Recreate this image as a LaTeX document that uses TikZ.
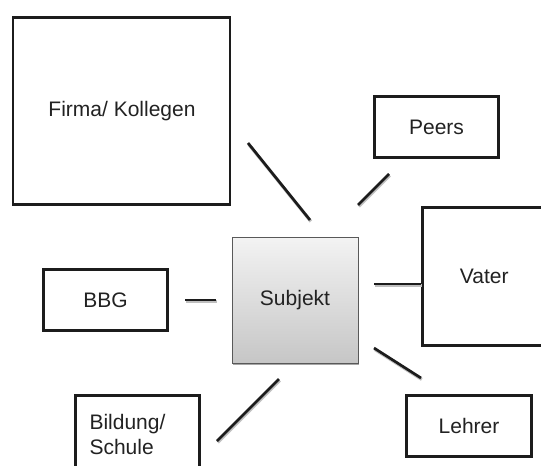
\documentclass[tikz,border=0pt]{standalone}
\usepackage{fontspec}
\setmainfont{Liberation Sans}
\usetikzlibrary{shadows}
\definecolor{ink}{HTML}{1C1C1C}
\definecolor{txt}{HTML}{222222}
\definecolor{gtop}{HTML}{F3F3F3}
\definecolor{gbot}{HTML}{C6C6C6}
\tikzset{
  boxnode/.style={draw=ink, line width=2.6pt, fill=white, rectangle, inner sep=0pt, text=txt,
    font=\fontsize{21}{25}\selectfont},
  subjnode/.style={draw=black!65, line width=0.8pt, rectangle, inner sep=0pt, text=txt,
    top color=gtop, bottom color=gbot, minimum width=126pt, minimum height=126pt,
    font=\fontsize{21}{25}\selectfont,
    drop shadow={shadow xshift=1.2pt, shadow yshift=-1.5pt, opacity=0.35, fill=black}},
  lbl/.style={text=txt, inner sep=0pt, font=\fontsize{21}{25}\selectfont},
  link/.style={draw=ink, line width=2.7pt},
  linkshadow/.style={draw=black!25, line width=3.2pt, transform canvas={shift={(0.8pt,-1.4pt)}}}
}
\begin{document}
\begin{tikzpicture}[x=1pt,y=-1pt]
\useasboundingbox (0,0) rectangle (541,466);
\clip (0,0) rectangle (541,466);
\fill[white] (0,0) rectangle (541,466);

% nodes
\node[boxnode, minimum width=217pt, minimum height=187.5pt] (firma) at (121.5,111) {};
\node[lbl] (firmatext) at (122,111) {Firma/ Kollegen};
\node[boxnode, minimum width=124pt, minimum height=61pt] (peers) at (436.5,127) {Peers};
\node[boxnode, minimum width=123.5pt, minimum height=138pt] (vater) at (484.25,276.5) {Vater};
\node[boxnode, minimum width=124pt, minimum height=61pt] (bbg) at (105.5,300) {BBG};
\node[boxnode, minimum width=124pt, minimum height=80pt] (bild) at (137.5,435.5) {};
\node[lbl, align=left] (bildtext) at (127.5,434.5) {Bildung/\\Schule};
\node[boxnode, minimum width=125pt, minimum height=61pt] (lehrer) at (469,426) {Lehrer};
\node[subjnode] (subj) at (295,300) {Subjekt};

% connector end points
\coordinate (f1) at (248,143); \coordinate (f2) at (310,220);
\coordinate (p1) at (389,174); \coordinate (p2) at (358,205);
\coordinate (v1) at (374,284);
\coordinate (b1) at (185,300); \coordinate (b2) at (216,300);
\coordinate (s1) at (279,379); \coordinate (s2) at (217,441);
\coordinate (l1) at (374,348); \coordinate (l2) at (421,378);

% shadows of connectors
\draw[linkshadow] (f1) -- (f2);
\draw[linkshadow] (p1) -- (p2);
\draw[linkshadow] (v1) -- (v1 -| vater.west);
\draw[linkshadow] (b1) -- (b2);
\draw[linkshadow] (s1) -- (s2);
\draw[linkshadow] (l1) -- (l2);

% connectors
\draw[link] (f1) -- (f2);
\draw[link] (p1) -- (p2);
\draw[link] (v1) -- (v1 -| vater.west);
\draw[link] (b1) -- (b2);
\draw[link] (s1) -- (s2);
\draw[link] (l1) -- (l2);
\end{tikzpicture}
\end{document}
